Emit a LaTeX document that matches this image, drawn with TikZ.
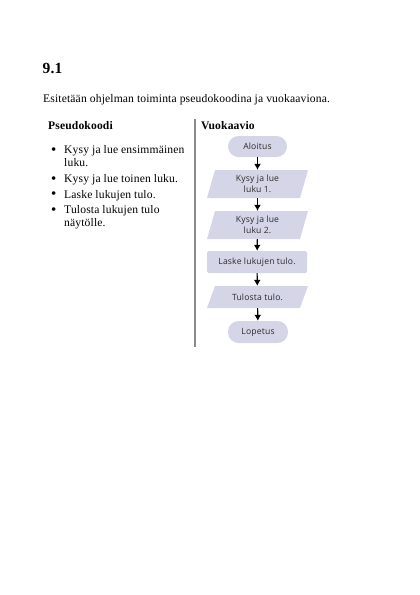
\documentclass[tikz,border=0pt]{standalone}
\usepackage{fontspec}
\setmainfont[LetterSpace=1.2]{Liberation Serif}
\newfontfamily\flowfont[LetterSpace=2]{Open Sans}
\definecolor{flowfill}{HTML}{D5D5E8}
\definecolor{flowtext}{HTML}{2A2A2A}
\definecolor{rulegray}{HTML}{8A8A8A}
\tikzset{
  txt/.style={anchor=base west, inner sep=0pt, font=\fontsize{11.6}{13}\selectfont},
  bul/.style={anchor=base west, inner sep=0pt, font=\fontsize{15}{13}\selectfont},
  hd/.style={anchor=base west, inner sep=0pt, font=\fontsize{11.6}{13}\selectfont\bfseries},
  flowbase/.style={inner sep=0pt, align=center, text=flowtext, font=\flowfont\fontsize{8.6}{10.5}\selectfont},
  terminal/.style={flowbase, fill=flowfill, rounded corners=10.5pt, minimum width=59pt, minimum height=21pt},
  process/.style={flowbase, fill=flowfill, rounded corners=1.5pt, minimum width=100pt, minimum height=22pt},
  iobox/.style={flowbase, minimum width=101pt,
    path picture={\fill[flowfill] ([xshift=8pt]path picture bounding box.north west) -- (path picture bounding box.north east) -- ([xshift=-8pt]path picture bounding box.south east) -- (path picture bounding box.south west) -- cycle;}},
  flowarrow/.style={-{Latex[length=6pt,width=7pt]}, line width=1.1pt, black}
}
\usetikzlibrary{arrows.meta}
\begin{document}
\begin{tikzpicture}[x=1pt,y=-1pt]
\useasboundingbox (0,0) rectangle (420,595);
\node[anchor=base west, inner sep=0pt, font=\fontsize{15.5}{18}\selectfont\bfseries] (title) at (42.5,73.5) {9.1};
\node[txt] (intro) at (43,102) {Esitetään ohjelman toiminta pseudokoodina ja vuokaaviona.};
\node[hd] (pshead) at (48,129) {Pseudokoodi};
\node[bul] (b1) at (51,154) {•};
\node[txt] (l1) at (64,153.5) {Kysy ja lue ensimmäinen};
\node[txt] (l1b) at (64,166.5) {luku.};
\node[bul] (b2) at (51,183) {•};
\node[txt] (l2) at (64,182.5) {Kysy ja lue toinen luku.};
\node[bul] (b3) at (51,198.5) {•};
\node[txt] (l3) at (64,198) {Laske lukujen tulo.};
\node[bul] (b4) at (51,214) {•};
\node[txt] (l4) at (64,213.5) {Tulosta lukujen tulo};
\node[txt] (l4b) at (64,226.5) {näytölle.};
\coordinate (ruletop) at (195,119);
\coordinate (rulebot) at (195,347);
\draw[rulegray, line width=1.2pt] (ruletop) -- (rulebot);
\node[hd] (vkhead) at (201,129) {Vuokaavio};
\node[terminal] (start) at (257.5,146.5) {Aloitus};
\node[iobox, minimum height=28pt] (in1) at (257.5,184) {Kysy ja lue\\luku 1.};
\node[iobox, minimum height=28pt] (in2) at (257.5,225) {Kysy ja lue\\luku 2.};
\node[process] (calc) at (257,262) {Laske lukujen tulo.};
\node[iobox, minimum height=22pt] (out) at (257.5,297) {Tulosta tulo.};
\node[terminal, minimum width=60pt, minimum height=22pt] (stop) at (258,332) {Lopetus};
\draw[flowarrow] (start) -- (in1);
\draw[flowarrow] (in1) -- (in2);
\draw[flowarrow] (in2) -- (calc);
\draw[flowarrow] (calc) -- (out);
\draw[flowarrow] (out) -- (stop);
\end{tikzpicture}
\end{document}
